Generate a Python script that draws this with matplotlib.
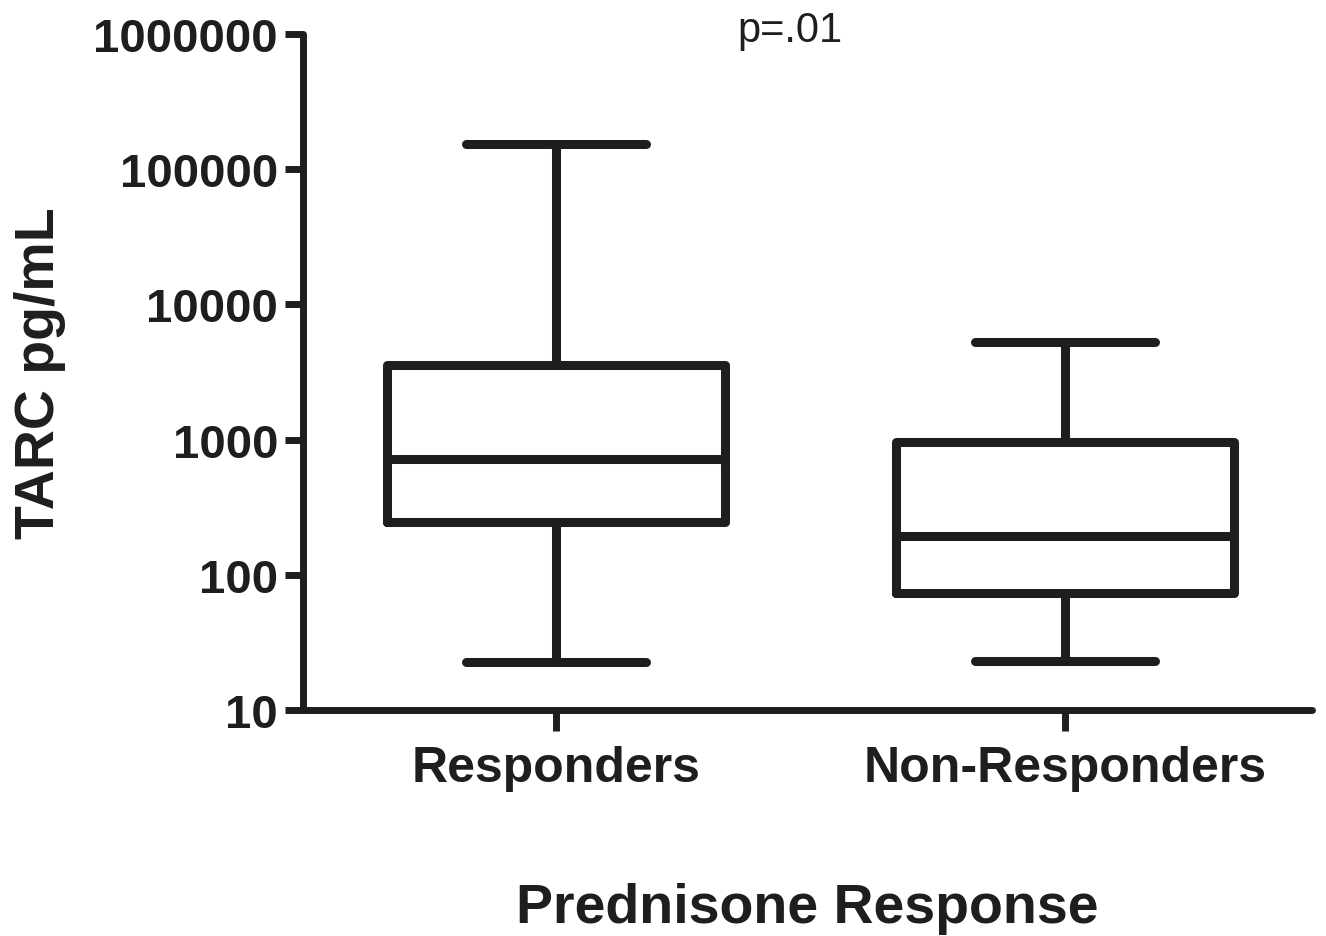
import matplotlib
matplotlib.use('Agg')
import matplotlib.pyplot as plt
from matplotlib.ticker import FixedLocator, NullLocator

plt.rcParams['font.family'] = ['Liberation Sans', 'DejaVu Sans']

# box summary values (pg/mL)
groups = ['Responders', 'Non-Responders']
whislo = [22.6, 22.9]
q1 = [245, 73]
med = [720, 194]
q3 = [3560, 960]
whishi = [153000, 5270]
yticks = [10, 100, 1000, 10000, 100000, 1000000]

stats = []
for i in range(len(groups)):
    stats.append({'label': groups[i], 'whislo': whislo[i], 'q1': q1[i], 'med': med[i],
                  'q3': q3[i], 'whishi': whishi[i], 'fliers': []})

fig = plt.figure(figsize=(13.26, 9.37), dpi=100)
ax = fig.add_axes([303/1326, 1-711/937, (1312-303)/1326, (711-35)/937])

col = '#1e1e1e'
lw = 6.5
line = dict(color=col, linewidth=lw, solid_capstyle='round', solid_joinstyle='round')
ax.bxp(stats, positions=[1, 2], widths=0.664, capwidths=0.353, showfliers=False,
       boxprops=line, whiskerprops=line, capprops=line,
       medianprops=dict(color=col, linewidth=lw, solid_capstyle='butt'))

ax.set_yscale('log')
ax.set_ylim(10, 1000000)
ax.set_xlim(0.503, 2.485)
ax.yaxis.set_major_locator(FixedLocator(yticks))
ax.yaxis.set_minor_locator(NullLocator())
ax.set_yticklabels([str(t) for t in yticks], fontsize=34, fontweight='bold', color=col)
ax.set_xticks([1, 2])
ax.set_xticklabels(groups, fontsize=36, fontweight='bold', color=col)

for s in ['top', 'right']:
    ax.spines[s].set_visible(False)
for s in ['left', 'bottom']:
    ax.spines[s].set_linewidth(5)
    ax.spines[s].set_color(col)
    ax.spines[s].set_capstyle('round')
ax.tick_params(axis='y', length=13, width=5, color=col, pad=5)
ax.tick_params(axis='x', length=15, width=5, color=col, pad=10)

ax.set_xlabel('Prednisone Response', fontsize=40, fontweight='bold', color=col, labelpad=66)
ax.set_ylabel('TARC pg/mL', fontsize=40, fontweight='bold', color=col, labelpad=20)
fig.text(790/1326, 1-31/937, 'p=.01', fontsize=30, color=col, ha='center', va='center')

fig.savefig('out.png', dpi=100)
